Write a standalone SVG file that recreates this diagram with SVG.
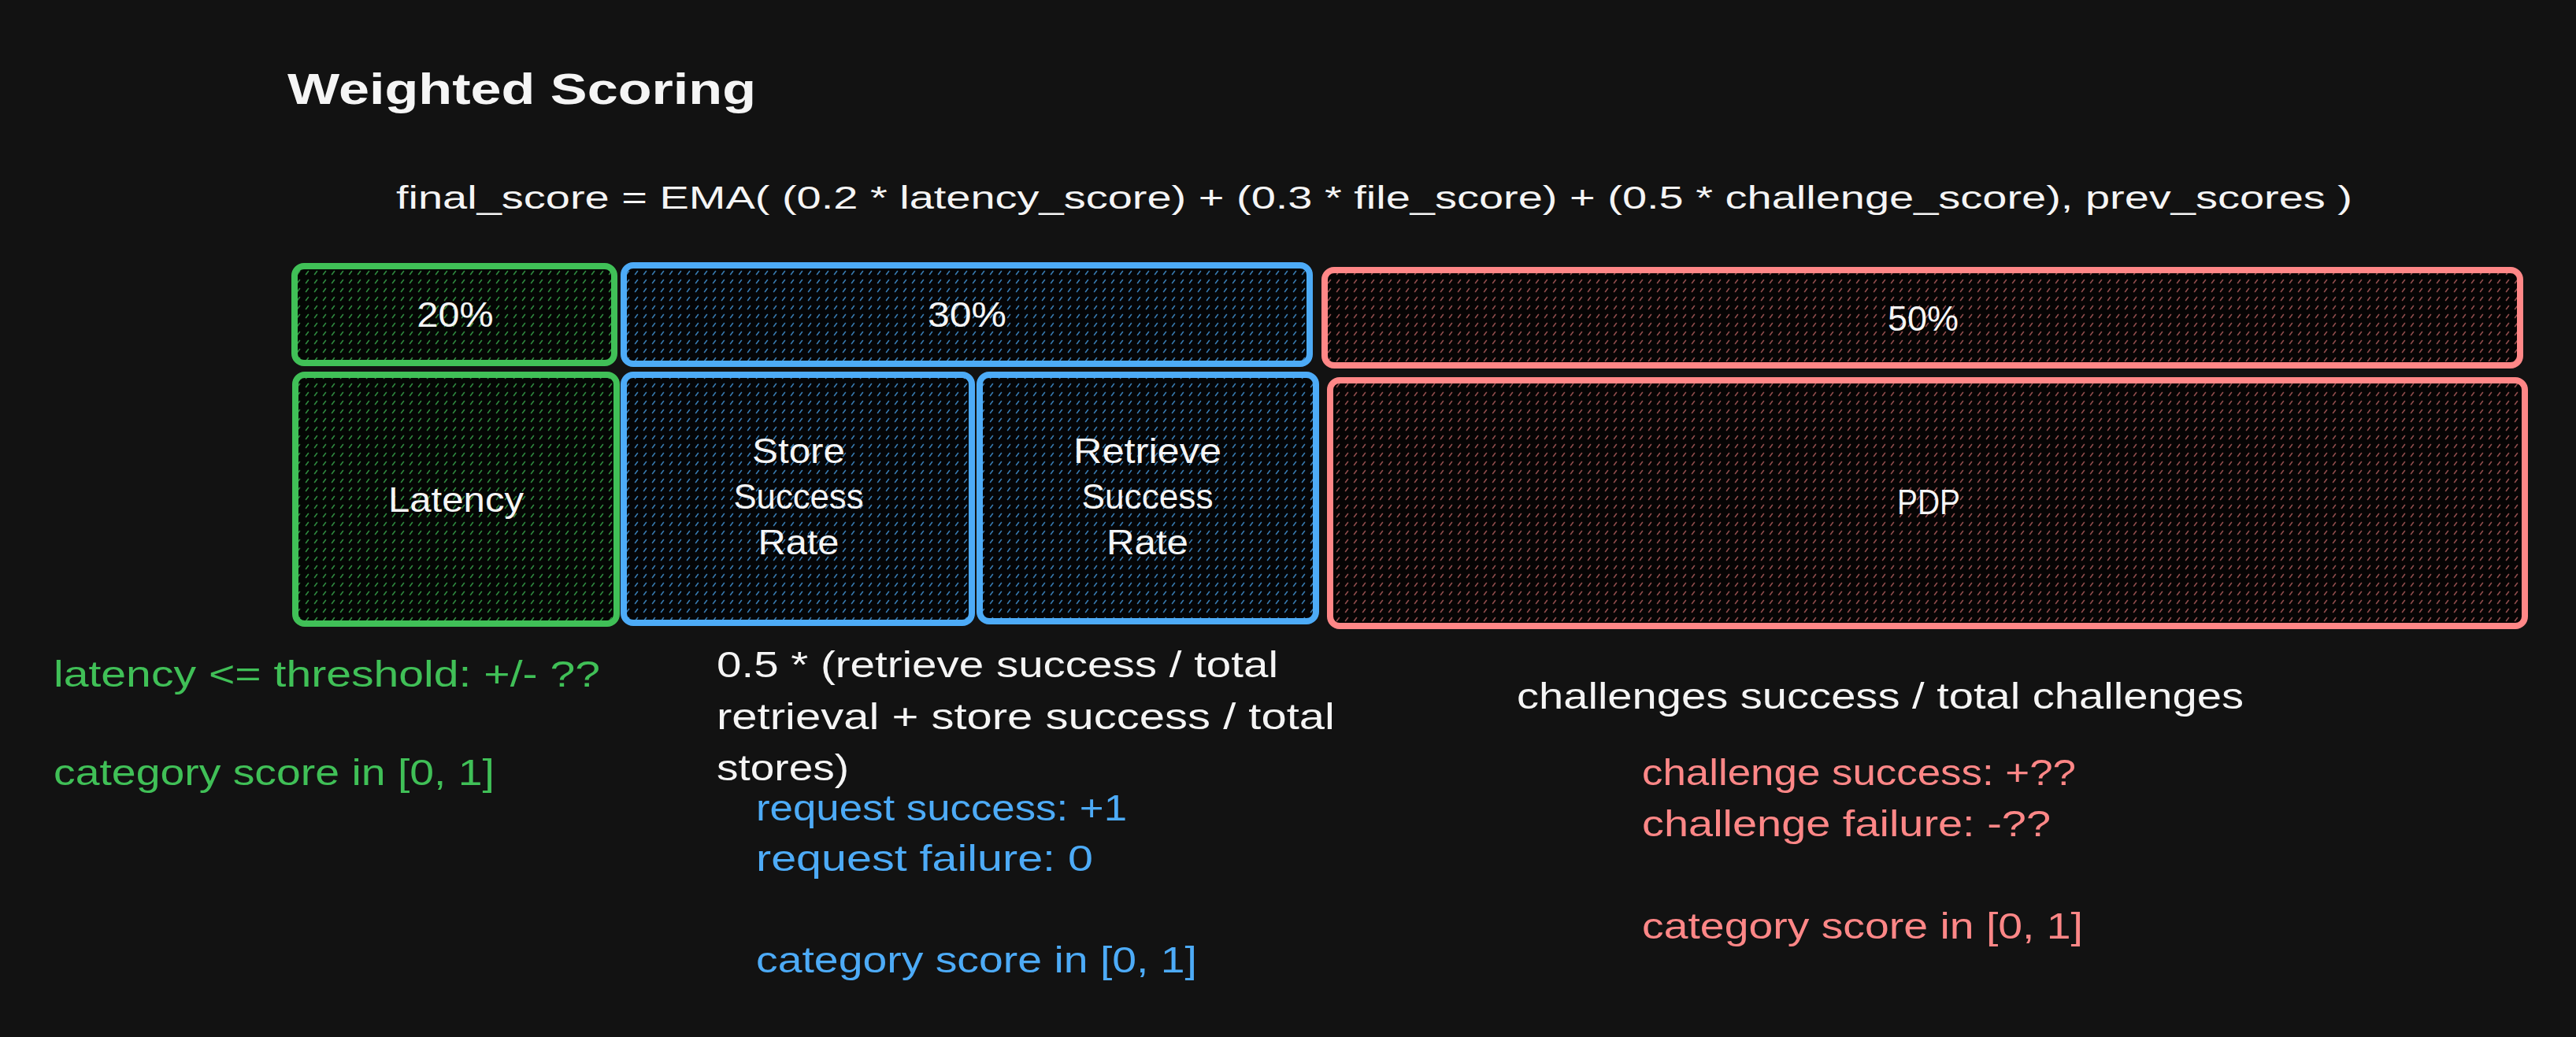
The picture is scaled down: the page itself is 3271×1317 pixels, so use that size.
<svg xmlns="http://www.w3.org/2000/svg" width="3271" height="1317" viewBox="0 0 3271 1317">
  <defs>
    <pattern id="hatch-green" width="11" height="11" patternUnits="userSpaceOnUse">
      <rect width="11" height="11" fill="#040604"/>
      <line x1="3.5" y1="7.5" x2="6.5" y2="3.5" stroke="#40c057" stroke-opacity="0.7" stroke-width="1.6" stroke-linecap="round"/>
    </pattern>
    <pattern id="hatch-blue" width="11" height="11" patternUnits="userSpaceOnUse">
      <rect width="11" height="11" fill="#040507"/>
      <line x1="3.5" y1="7.5" x2="6.5" y2="3.5" stroke="#4dabf7" stroke-opacity="0.7" stroke-width="1.6" stroke-linecap="round"/>
    </pattern>
    <pattern id="hatch-red" width="11" height="11" patternUnits="userSpaceOnUse">
      <rect width="11" height="11" fill="#060404"/>
      <line x1="3.5" y1="7.5" x2="6.5" y2="3.5" stroke="#ff8787" stroke-opacity="0.55" stroke-width="1.6" stroke-linecap="round"/>
    </pattern>
  </defs>
  <style>
    text { font-family: "Liberation Sans", Arial, sans-serif; }
    .title { font-size: 56px; font-weight: bold; fill: #f5f5f5; }
    .formula { font-size: 40px; fill: #f5f5f5; }
    .label { font-size: 44px; fill: #f5f5f5; text-anchor: middle; }
    .body { font-size: 46px; }
    .white { fill: #f5f5f5; }
    .green { fill: #40c057; }
    .blue { fill: #4dabf7; }
    .red { fill: #ff8787; }
    .box { stroke-width: 8; rx: 12; ry: 12; }
    .g-box { stroke: #40c057; fill: url(#hatch-green); }
    .b-box { stroke: #4dabf7; fill: url(#hatch-blue); }
    .r-box { stroke: #ff8787; fill: url(#hatch-red); }
  </style>
  <rect width="3271" height="1317" fill="#121212"/>

  <g id="title">
    <text class="title" x="365" y="132" textLength="595" lengthAdjust="spacingAndGlyphs">Weighted Scoring</text>
  </g>
  <g id="formula">
    <text class="formula" x="503" y="265" textLength="2484" lengthAdjust="spacingAndGlyphs">final_score = EMA( (0.2 * latency_score) + (0.3 * file_score) + (0.5 * challenge_score), prev_scores )</text>
  </g>

  <g id="weight-20">
    <rect class="box g-box" x="374" y="338" width="406" height="123"/>
    <text class="label" x="578" y="415" textLength="97" lengthAdjust="spacingAndGlyphs">20%</text>
  </g>
  <g id="weight-30">
    <rect class="box b-box" x="792" y="337" width="871" height="125"/>
    <text class="label" x="1228" y="415" textLength="100" lengthAdjust="spacingAndGlyphs">30%</text>
  </g>
  <g id="weight-50">
    <rect class="box r-box" x="1682" y="343" width="1518" height="121"/>
    <text class="label" x="2442" y="420" textLength="90" lengthAdjust="spacingAndGlyphs">50%</text>
  </g>

  <g id="latency">
    <rect class="box g-box" x="375" y="476" width="408" height="316"/>
    <text class="label" x="579" y="650" textLength="172" lengthAdjust="spacingAndGlyphs">Latency</text>
  </g>
  <g id="store-success-rate">
    <rect class="box b-box" x="792" y="476" width="442" height="315"/>
    <text class="label" x="1014" y="588" textLength="118" lengthAdjust="spacingAndGlyphs">Store</text>
    <text class="label" x="1014" y="646" textLength="165" lengthAdjust="spacingAndGlyphs">Success</text>
    <text class="label" x="1014" y="704" textLength="103" lengthAdjust="spacingAndGlyphs">Rate</text>
  </g>
  <g id="retrieve-success-rate">
    <rect class="box b-box" x="1244" y="476" width="427" height="313"/>
    <text class="label" x="1457" y="588" textLength="188" lengthAdjust="spacingAndGlyphs">Retrieve</text>
    <text class="label" x="1457" y="646" textLength="167" lengthAdjust="spacingAndGlyphs">Success</text>
    <text class="label" x="1457" y="704" textLength="104" lengthAdjust="spacingAndGlyphs">Rate</text>
  </g>
  <g id="pdp">
    <rect class="box r-box" x="1689" y="483" width="1517" height="312"/>
    <text class="label" x="2449" y="653" textLength="80" lengthAdjust="spacingAndGlyphs">PDP</text>
  </g>

  <g id="latency-notes">
    <text class="body green" x="68" y="872" textLength="694" lengthAdjust="spacingAndGlyphs">latency &lt;= threshold: +/- ??</text>
    <text class="body green" x="68" y="997" textLength="560" lengthAdjust="spacingAndGlyphs">category score in [0, 1]</text>
  </g>
  <g id="file-notes">
    <text class="body white" x="910" y="860" textLength="713" lengthAdjust="spacingAndGlyphs">0.5 * (retrieve success / total</text>
    <text class="body white" x="910" y="926" textLength="785" lengthAdjust="spacingAndGlyphs">retrieval + store success / total</text>
    <text class="body white" x="910" y="991" textLength="168" lengthAdjust="spacingAndGlyphs">stores)</text>
    <text class="body blue" x="960" y="1042" textLength="471" lengthAdjust="spacingAndGlyphs">request success: +1</text>
    <text class="body blue" x="960" y="1106" textLength="428" lengthAdjust="spacingAndGlyphs">request failure: 0</text>
    <text class="body blue" x="960" y="1235" textLength="560" lengthAdjust="spacingAndGlyphs">category score in [0, 1]</text>
  </g>
  <g id="pdp-notes">
    <text class="body white" x="1926" y="900" textLength="923" lengthAdjust="spacingAndGlyphs">challenges success / total challenges</text>
    <text class="body red" x="2085" y="997" textLength="551" lengthAdjust="spacingAndGlyphs">challenge success: +??</text>
    <text class="body red" x="2085" y="1062" textLength="519" lengthAdjust="spacingAndGlyphs">challenge failure: -??</text>
    <text class="body red" x="2085" y="1192" textLength="560" lengthAdjust="spacingAndGlyphs">category score in [0, 1]</text>
  </g>
  <g id="connectors"/>
</svg>
